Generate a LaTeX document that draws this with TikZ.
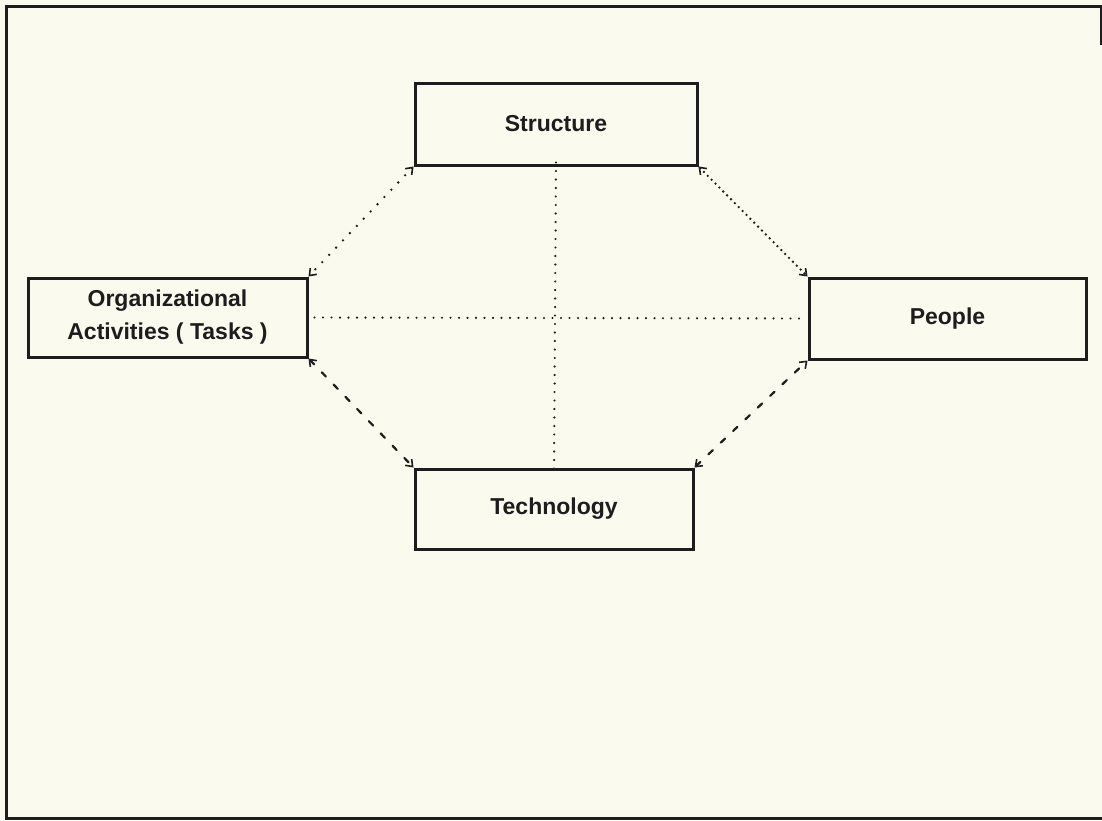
\documentclass[tikz,border=0pt]{standalone}
\usepackage{fontspec}
\setmainfont{Liberation Sans}
\usetikzlibrary{arrows.meta}
\definecolor{paper}{RGB}{250,250,238}
\definecolor{ink}{RGB}{30,28,28}
\begin{document}
\begin{tikzpicture}[x=1pt,y=-1pt,
  box/.style={draw=ink,line width=3pt,fill=paper,inner sep=0pt,align=center,
    font=\fontsize{23}{33}\selectfont\bfseries,text=ink},
  tip/.style={{Straight Barb[length=6pt,width=9pt,line width=1.6pt]}-{Straight Barb[length=6pt,width=9pt,line width=1.6pt]}},
  link/.style={draw=ink,line cap=round},
  sparsedots/.style={link,line width=2.6pt,dash pattern=on 0pt off 10pt},
  densedots/.style={link,line width=2.6pt,dash pattern=on 0pt off 5.5pt},
  middots/.style={link,line width=2.4pt,dash pattern=on 0pt off 8.5pt},
  dashes/.style={link,line width=2.2pt,dash pattern=on 6pt off 11pt}]
  % page and frame
  \fill[paper] (0,0) rectangle (1102,820);
  \useasboundingbox (0,0) rectangle (1102,820);
  \draw[ink,line width=3pt] (1101,45) -- (1101,6) -- (6,6) -- (6,818) -- (1102,818);

  % the four elements
  \node[box,minimum width=282pt,minimum height=82pt] (S) at (556,124) {Structure};
  \node[box,minimum width=278pt,minimum height=80pt] (T) at (554,509) {Technology};
  \node[box,minimum width=279pt,minimum height=79pt] (O) at (167.5,317.5)
    {Organizational\\Activities ( Tasks )};
  \node[box,minimum width=277pt,minimum height=81pt] (P) at (947.5,318.5) {People};

  % links between elements
  \draw[sparsedots,tip] (S.south west) -- (O.north east);
  \draw[densedots,tip] (S.south east) -- (P.north west);
  \draw[dashes,tip] (O.south east) -- (T.north west);
  \draw[dashes,tip] (T.north east) -- (P.south west);
  \draw[middots] ([xshift=6pt]O.east) -- ([xshift=-4pt]P.west);
  \draw[middots] ([yshift=4pt]S.south) -- ([yshift=-4pt]T.north);
\end{tikzpicture}
\end{document}
